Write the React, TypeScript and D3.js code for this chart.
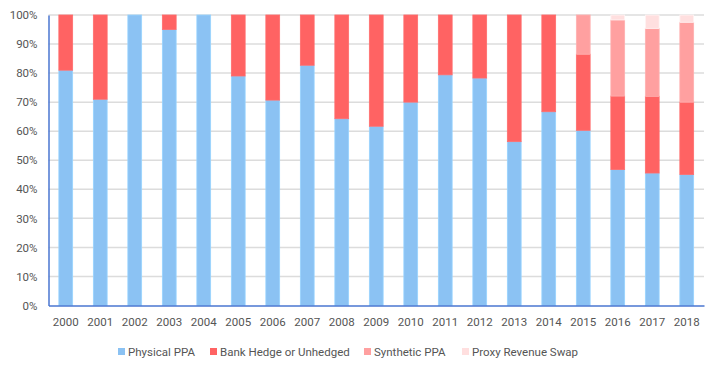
import { useEffect, useRef } from 'react';
import * as d3 from 'd3';

const years = ['2000', '2001', '2002', '2003', '2004', '2005', '2006', '2007', '2008', '2009',
  '2010', '2011', '2012', '2013', '2014', '2015', '2016', '2017', '2018'];

const physicalPPA = [81, 71, 100, 95, 100, 79, 70.7, 82.7, 64.3, 61.7, 70, 79.4, 78.3, 56.4, 66.7, 60.3, 46.8, 45.6, 45.1];
const bankHedge = [19, 29, 0, 5, 0, 21, 29.3, 17.3, 35.7, 38.3, 30, 20.6, 21.7, 43.6, 33.3, 26.2, 25.3, 26.4, 24.9];
const syntheticPPA = [0, 0, 0, 0, 0, 0, 0, 0, 0, 0, 0, 0, 0, 0, 0, 13.5, 26.2, 23.4, 27.5];
const proxySwap = [0, 0, 0, 0, 0, 0, 0, 0, 0, 0, 0, 0, 0, 0, 0, 0, 1.7, 4.6, 2.5];

const seriesNames = ['Physical PPA', 'Bank Hedge or Unhedged', 'Synthetic PPA', 'Proxy Revenue Swap'];
const seriesColors = ['#8bc2f3', '#ff6363', '#ffa0a0', '#ffdfdf'];
const yTicks = [0, 10, 20, 30, 40, 50, 60, 70, 80, 90, 100];

export default function App() {
  const ref = useRef<SVGSVGElement>(null);

  useEffect(() => {
    if (!ref.current) return;
    const svg = d3.select(ref.current);
    svg.selectAll('*').remove();

    const left = 48.5, right = 704, top = 15, bottom = 305.5;
    const font = 'Roboto, "Noto Sans", sans-serif';

    const rows = years.map((year, i) => ({
      year,
      s0: physicalPPA[i],
      s1: bankHedge[i],
      s2: syntheticPPA[i],
      s3: proxySwap[i],
    }));

    const x = d3.scaleBand().domain(years).range([left, right]).paddingInner(0.6).paddingOuter(0.3);
    const y = d3.scaleLinear().domain([0, 100]).range([bottom, top]);

    const stacked = d3.stack<any>().keys(['s0', 's1', 's2', 's3'])(rows);

    // grid lines
    svg.append('g')
      .selectAll('line')
      .data(yTicks.filter(t => t > 0))
      .enter()
      .append('line')
      .attr('x1', left)
      .attr('x2', right)
      .attr('y1', d => y(d))
      .attr('y2', d => y(d))
      .attr('stroke', '#dcdcdc')
      .attr('stroke-width', 1.5);

    // bars
    stacked.forEach((layer, k) => {
      const color = seriesColors[k];
      svg.append('g')
        .selectAll('rect')
        .data(layer.filter(d => d[1] - d[0] > 0))
        .enter()
        .append('rect')
        .attr('x', d => x(d.data.year)!)
        .attr('width', x.bandwidth())
        .attr('y', d => y(d[1]))
        .attr('height', d => y(d[0]) - y(d[1]))
        .attr('fill', color)
        .attr('stroke', d3.color(color)!.brighter(0.25).toString())
        .attr('stroke-width', 0.8);
    });

    // y axis
    const yAxis = svg.append('g')
      .attr('transform', `translate(${left},0)`)
      .call(d3.axisLeft(y).tickValues(yTicks).tickSize(0).tickPadding(11).tickFormat(d => `${d}%`));
    yAxis.select('.domain').attr('stroke', '#4a76d0').attr('stroke-width', 1.5);
    yAxis.selectAll('text')
      .attr('fill', '#555')
      .attr('font-size', 11.5)
      .attr('font-family', font);

    // x axis
    const xAxis = svg.append('g')
      .attr('transform', `translate(0,${bottom})`)
      .call(d3.axisBottom(x).tickSize(0).tickPadding(12));
    xAxis.select('.domain').attr('stroke', '#4a76d0').attr('stroke-width', 1.5);
    xAxis.selectAll('text')
      .attr('fill', '#555')
      .attr('font-size', 11.5)
      .attr('font-family', font);

    // legend
    const legendX = [118, 210, 364, 462];
    const legend = svg.append('g')
      .selectAll('g')
      .data(seriesNames)
      .enter()
      .append('g')
      .attr('transform', (d, i) => `translate(${legendX[i]},352)`);
    legend.append('rect')
      .attr('x', 0)
      .attr('y', -4)
      .attr('width', 7)
      .attr('height', 7)
      .attr('fill', (d, i) => seriesColors[i]);
    legend.append('text')
      .attr('x', 10)
      .attr('y', 0)
      .attr('dy', '0.35em')
      .attr('fill', '#555')
      .attr('font-size', 11.5)
      .attr('font-family', font)
      .text(d => d);
  }, []);

  return (
    <svg
      ref={ref}
      width={722}
      height={365}
      style={{ position: 'absolute', left: 0, top: 0, background: '#fff' }}
    />
  );
}
